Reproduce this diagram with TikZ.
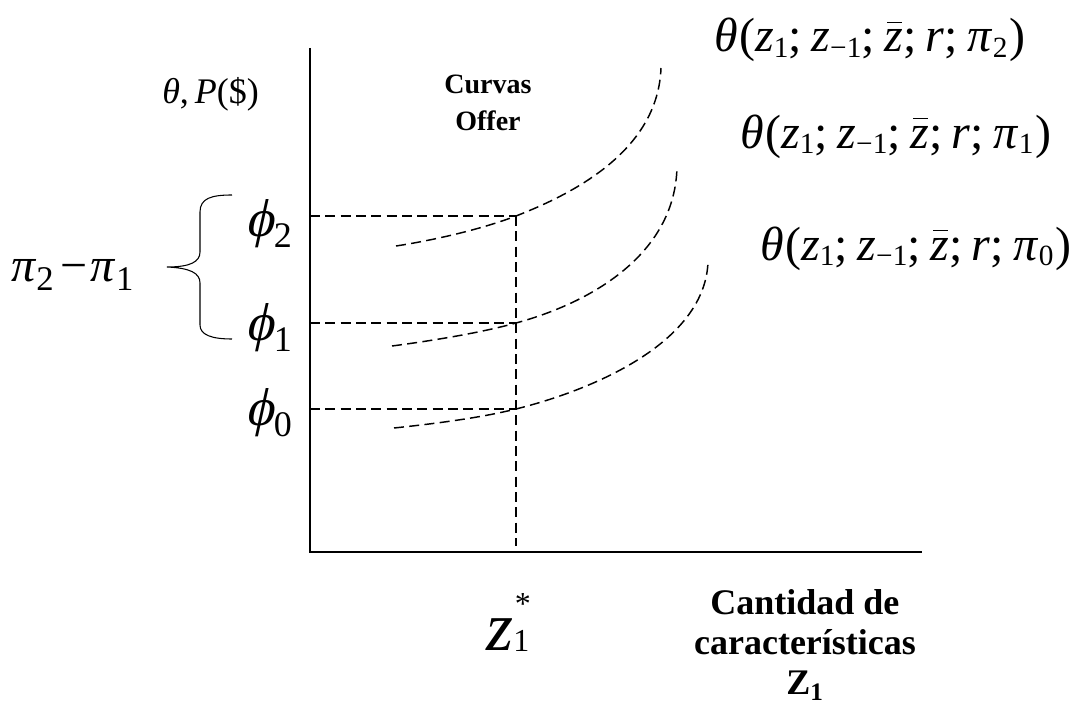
\documentclass[tikz,border=0pt]{standalone}
\usepackage{fontspec}
\setmainfont{Liberation Serif}
\newfontfamily\phifont[FakeSlant=0.22]{Liberation Serif}
% subscript: size, drop, text
\newcommand{\lsub}[3]{\raisebox{-#2}{\fontsize{#1}{#1}\selectfont #3}}
\newcommand{\zbarit}{\textit{z}\llap{\raisebox{0.6em}{\rule{0.3em}{0.035em}}\hspace{0.03em}}}
\newcommand{\thetaform}[1]{\textit{θ}\hspace{0.03em}(\textit{z}\lsub{22pt}{0.12em}{1};\hspace{0.2em}\textit{z}\lsub{22pt}{0.12em}{−1};\hspace{0.2em}\zbarit;\hspace{0.2em}\textit{r};\hspace{0.2em}\textit{π}\lsub{22pt}{0.12em}{#1}\hspace{0.04em})}
\newcommand{\philab}[1]{{\phifont ϕ}\hspace{0.01em}\lsub{27pt}{0.2em}{#1}}
\begin{document}
\begin{tikzpicture}[x=0.75pt,y=-0.75pt,
  axisline/.style={line width=1.4pt},
  guide/.style={dash pattern=on 7.5pt off 4pt, line width=1.1pt},
  offer/.style={dash pattern=on 7.5pt off 4pt, line width=1.1pt},
  bracestyle/.style={line width=0.8pt},
  formula/.style={inner sep=0pt, anchor=base west, font=\fontsize{36}{40}\selectfont},
  philbl/.style={inner sep=0pt, anchor=west, font=\fontsize{40}{44}\selectfont},
  boldlbl/.style={inner sep=0pt, align=center, font=\bfseries\fontsize{21}{28}\selectfont},
  boldlbl2/.style={inner sep=0pt, align=center, font=\bfseries\fontsize{27}{30}\selectfont}]
\useasboundingbox (0,0) rectangle (1083,717);
% axes
\coordinate (ytop) at (310,48);
\coordinate (O) at (310,552);
\coordinate (xend) at (922,552);
\draw[axisline] (ytop) -- (O) -- (xend);
% guide points
\coordinate (a2) at (310,216); \coordinate (m2) at (516,216);
\coordinate (a1) at (310,323); \coordinate (m1) at (516,323);
\coordinate (a0) at (310,409); \coordinate (m0) at (516,409);
\coordinate (zb) at (516,546);
\draw[guide] (a2) -- (m2);
\draw[guide] (a1) -- (m1);
\draw[guide] (a0) -- (m0);
\draw[guide] (m2) -- (zb);
% offer curves
\coordinate (s2) at (396,246); \coordinate (e2) at (661,68);
\coordinate (s1) at (392,346); \coordinate (e1) at (677,167);
\coordinate (s0) at (394,428); \coordinate (e0) at (708,262);
\draw[offer] (s2) .. controls (435,240) and (482,229) .. (m2) .. controls (575,193) and (658,150) .. (e2);
\draw[offer] (s1) .. controls (430,341) and (480,333) .. (m1) .. controls (590,303) and (675,255) .. (e1);
\draw[offer] (s0) .. controls (432,424) and (480,418) .. (m0) .. controls (600,388) and (705,340) .. (e0);
% brace
\coordinate (bt) at (232,195); \coordinate (bb) at (232,339); \coordinate (btip) at (167,267);
\draw[bracestyle] (bt) .. controls (212,195) and (200,198) .. (200,212) -- (200,252)
  .. controls (200,262) and (190,267) .. (btip)
  .. controls (190,268) and (200,273) .. (200,283) -- (200,325)
  .. controls (200,335) and (212,339) .. (bb);
% labels
\node[inner sep=0pt, anchor=base west, font=\fontsize{27}{30}\selectfont] (ylab) at (162,104) {\textit{θ},\,\textit{P}(\$)};
\node[boldlbl] (curvas) at (488,103) {Curvas\\Offer};
\node[philbl] (phi2) at (245,224) {\philab{2}};
\node[philbl] (phi1) at (245,328) {\philab{1}};
\node[philbl] (phi0) at (245,413) {\philab{0}};
\node[inner sep=0pt, anchor=base west, font=\fontsize{36}{40}\selectfont] (dpi) at (11,281) {\textit{π}\lsub{26pt}{0.2em}{2}\hspace{0.15em}−\hspace{0.06em}\textit{π}\lsub{26pt}{0.2em}{1}};
\node[formula] (th2) at (714,52) {\thetaform{2}};
\node[formula] (th1) at (740,148) {\thetaform{1}};
\node[formula] (th0) at (760,260) {\thetaform{0}};
\node[inner sep=0pt, anchor=base west, font=\fontsize{52}{56}\selectfont] (zstar) at (486,650) {\textit{z}\raisebox{-0.02em}{\fontsize{24}{24}\selectfont\rlap{\hspace{0.05em}\raisebox{1.15em}{*}}1}};
\node[boldlbl2] (xlab) at (805,645) {Cantidad de\\caracter\'isticas\\Z\textsubscript{1}};
\end{tikzpicture}
\end{document}
